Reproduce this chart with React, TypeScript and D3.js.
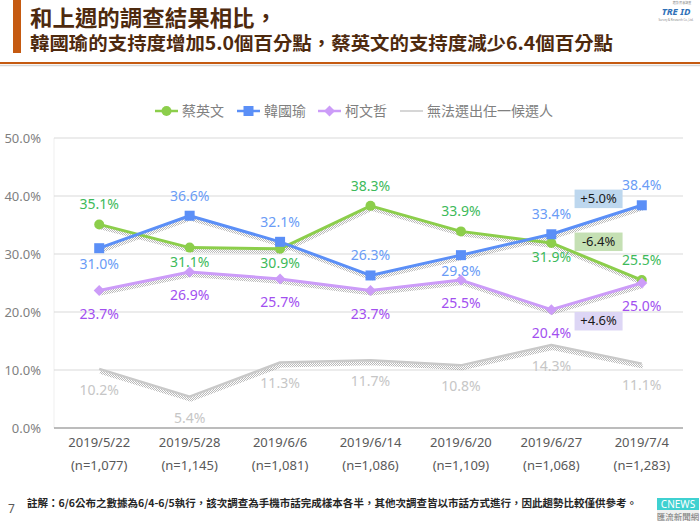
import React from "react";
import * as d3 from "d3";

// ---- data ----
const categories = ["2019/5/22", "2019/5/28", "2019/6/6", "2019/6/14", "2019/6/20", "2019/6/27", "2019/7/4"];
const sampleSizes = ["(n=1,077)", "(n=1,145)", "(n=1,081)", "(n=1,086)", "(n=1,109)", "(n=1,068)", "(n=1,283)"];
const seriesNames = ["蔡英文", "韓國瑜", "柯文哲", "無法選出任一候選人"];
const tsaiValues = [35.1, 31.1, 30.9, 38.3, 33.9, 31.9, 25.5];
const hanValues = [31.0, 36.6, 32.1, 26.3, 29.8, 33.4, 38.4];
const koValues = [23.7, 26.9, 25.7, 23.7, 25.5, 20.4, 25.0];
const noneValues = [10.2, 5.4, 11.3, 11.7, 10.8, 14.3, 11.1];
const tsaiLabelPos = ["above", "below", "below", "above", "above", "below", "above"];
const hanLabelPos = ["below", "above", "above", "above", "below", "above", "above"];
const koLabelPos = ["below", "below", "below", "below", "below", "below", "below"];
const noneLabelPos = ["below", "below", "below", "below", "below", "below", "below"];
const yTicks = [0, 10, 20, 30, 40, 50];

const titleLine1 = "和上週的調查結果相比，";
const titleLine2 = "韓國瑜的支持度增加5.0個百分點，蔡英文的支持度減少6.4個百分點";
const footnote = "註解：6/6公布之數據為6/4-6/5執行，該次調查為手機市話完成樣本各半，其他次調查皆以市話方式進行，因此趨勢比較僅供參考。";

// ---- layout ----
const W = 700, H = 523;
const plotLeft = 54, plotRight = 687, plotTop = 138, plotBottom = 428;
const CJK = "'Noto Sans CJK TC', 'Noto Sans', sans-serif";
const LAT = "'Noto Sans', 'Noto Sans CJK TC', sans-serif";

const x = d3.scalePoint<string>().domain(categories).range([plotLeft, plotRight]).padding(0.5);
const y = d3.scaleLinear().domain([0, 50]).range([plotBottom, plotTop]);

type Series = {
  name: string; values: number[]; pos: string[]; line: string; label: string;
  width: number; marker: string; below: number;
};
const series: Series[] = [
  { name: seriesNames[0], values: tsaiValues, pos: tsaiLabelPos, line: "#8cce4b", label: "#3dba5a", width: 3, marker: "circle", below: 14 },
  { name: seriesNames[1], values: hanValues, pos: hanLabelPos, line: "#5b8ff7", label: "#6a9cf6", width: 3, marker: "square", below: 16 },
  { name: seriesNames[2], values: koValues, pos: koLabelPos, line: "#cc9cf8", label: "#a24ff0", width: 3, marker: "diamond", below: 23 },
  { name: seriesNames[3], values: noneValues, pos: noneLabelPos, line: "#c9c9c9", label: "#c6c6c6", width: 2.5, marker: "none", below: 21 },
];

const lineGen = d3.line<number>().x((_, i) => x(categories[i]) as number).y((v) => y(v));

function Marker({ type, cx, cy, color }: { type: string; cx: number; cy: number; color: string }) {
  if (type === "circle") return <circle cx={cx} cy={cy} r={5} fill={color} />;
  if (type === "square") return <rect x={cx - 5} y={cy - 5} width={10} height={10} fill={color} />;
  if (type === "diamond") return <path d={`M${cx},${cy - 5.5}L${cx + 5.5},${cy}L${cx},${cy + 5.5}L${cx - 5.5},${cy}Z`} fill={color} />;
  return null;
}

export default function App() {
  const n = categories.length;
  const xPrev = x(categories[n - 2]) as number;
  const xLast = x(categories[n - 1]) as number;
  const midX = (xPrev + xLast) / 2;
  const diff = (arr: number[]) => {
    const d = arr[n - 1] - arr[n - 2];
    return (d >= 0 ? "+" : "") + d.toFixed(1) + "%";
  };
  const changeBoxes = [
    { text: diff(hanValues), fill: "#bdd7ee", yv: 39.55 },
    { text: diff(tsaiValues), fill: "#c5e0b4", yv: 32.15 },
    { text: diff(koValues), fill: "#ddd6f5", yv: 18.45 },
  ];
  const legendX = [155, 237, 318, 400];

  return (
    <svg width={W} height={H} style={{ position: "absolute", left: 0, top: 0, background: "#fff" }}>
      <defs>
        <pattern id="halftone" width="2" height="2" patternUnits="userSpaceOnUse">
          <rect x="0" y="0" width="1" height="1" fill="#8a8a8a" />
          <rect x="1" y="1" width="1" height="1" fill="#8a8a8a" />
        </pattern>
      </defs>
      <rect x={0} y={0} width={W} height={H} fill="#fff" />

      {/* title */}
      <rect x={13} y={0} width={8} height={53} fill="#c55a11" />
      <text x={30} y={26} fontFamily={CJK} fontWeight={700} fontSize={22} fill="#4e2a0e" textLength={247} lengthAdjust="spacingAndGlyphs">{titleLine1}</text>
      <text x={30} y={50} fontFamily={CJK} fontWeight={700} fontSize={18} fill="#4e2a0e" textLength={583} lengthAdjust="spacingAndGlyphs">{titleLine2}</text>
      <line x1={0} x2={W} y1={63} y2={63} stroke="#c55a11" strokeWidth={2} />
      <line x1={0} x2={W} y1={65.5} y2={65.5} stroke="#d6d6d6" strokeWidth={1.5} />
      {/* TRE ID logo */}
      <text x={682} y={4} fontFamily={CJK} fontSize={3} fill="#888" textAnchor="middle">趨勢 民意調查</text>
      <text x={676} y={15} fontFamily={LAT} fontSize={9.5} fontWeight={700} fontStyle="italic" fill="#2e6fb7" textAnchor="middle">TRE ID</text>
      <text x={676} y={21} fontFamily={LAT} fontSize={2.8} fill="#888" textAnchor="middle">Survey &amp; Research Co.,Ltd.</text>

      {/* legend */}
      {series.map((s, i) => (
        <g key={s.name}>
          <line x1={legendX[i]} x2={legendX[i] + 23} y1={111} y2={111} stroke={s.line} strokeWidth={i === 3 ? 1.5 : 2.5} />
          <Marker type={s.marker} cx={legendX[i] + 11.5} cy={111} color={s.line} />
          <text x={legendX[i] + 27} y={116} fontFamily={CJK} fontSize={14} fill="#808080">{s.name}</text>
        </g>
      ))}

      {/* grid */}
      <line x1={plotLeft} x2={plotLeft} y1={plotTop} y2={plotBottom} stroke="#efefef" strokeWidth={1} />
      {yTicks.map((t) => (
        <g key={t}>
          {t > 0 && <line x1={plotLeft} x2={plotRight - 4} y1={y(t)} y2={y(t)} stroke="#d9d9d9" strokeWidth={1} />}
          <text x={41} y={y(t) + 4.5} textAnchor="end" fontFamily={LAT} fontSize={13} fill="#7f7f7f">{t.toFixed(1)}%</text>
        </g>
      ))}
      <line x1={plotLeft} x2={plotRight - 4} y1={plotBottom} y2={plotBottom} stroke="#a6a6a6" strokeWidth={1.5} />

      {/* x labels */}
      {categories.map((c, i) => (
        <g key={c}>
          <text x={x(c)} y={447} textAnchor="middle" fontFamily={LAT} fontSize={13} fill="#595959">{c}</text>
          <text x={x(c)} y={470} textAnchor="middle" fontFamily={LAT} fontSize={13} fill="#595959">{sampleSizes[i]}</text>
        </g>
      ))}

      {/* shadows */}
      {series.map((s) => (
        <path key={"sh" + s.name} d={lineGen(s.values) || ""} transform="translate(1,3)" fill="none" stroke="url(#halftone)" strokeWidth={4} strokeLinejoin="round" opacity={0.6} />
      ))}

      {/* lines and markers */}
      {series.map((s) => (
        <g key={"l" + s.name}>
          <path d={lineGen(s.values) || ""} fill="none" stroke={s.line} strokeWidth={s.width} strokeLinejoin="round" />
          {s.values.map((v, i) => (
            <Marker key={i} type={s.marker} cx={x(categories[i]) as number} cy={y(v)} color={s.line} />
          ))}
        </g>
      ))}

      {/* data labels */}
      {series.map((s) => (
        <g key={"t" + s.name}>
          {s.values.map((v, i) => (
            <text key={i} x={x(categories[i]) as number} y={y(v) + (s.pos[i] === "above" ? -20 : s.below) + 5}
              textAnchor="middle" fontFamily={LAT} fontSize={14} fill={s.label}>{v.toFixed(1)}%</text>
          ))}
        </g>
      ))}

      {/* change boxes */}
      {changeBoxes.map((b) => (
        <g key={b.text}>
          <rect x={midX - 22} y={y(b.yv) - 9} width={48} height={18.5} fill={b.fill} />
          <text x={midX + 2} y={y(b.yv) + 4.5} textAnchor="middle" fontFamily={LAT} fontSize={13} fill="#1a1a1a">{b.text}</text>
        </g>
      ))}

      {/* footer */}
      <text x={27} y={507} fontFamily={CJK} fontWeight={700} fontSize={10.5} fill="#262626" textLength={610} lengthAdjust="spacingAndGlyphs">{footnote}</text>
      <text x={8} y={513} fontFamily={LAT} fontSize={12} fill="#595959">7</text>
      <rect x={657} y={498} width={42} height={12} fill="#3fd1d1" />
      <text x={678} y={508} textAnchor="middle" fontFamily={LAT} fontSize={10} fill="#fff">CNEWS</text>
      <rect x={657} y={510} width={42} height={11} fill="#f0f0f0" />
      <text x={678} y={519.5} textAnchor="middle" fontFamily={CJK} fontSize={8.5} fill="#777">匯流新聞網</text>
    </svg>
  );
}
